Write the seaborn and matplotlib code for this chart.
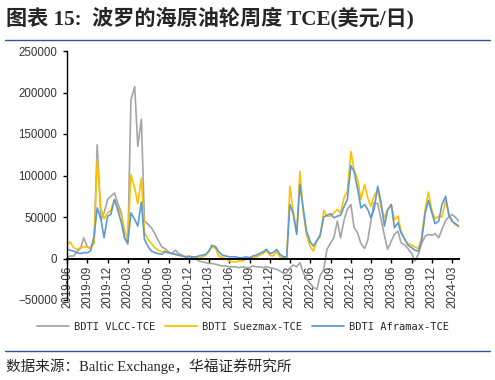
import pandas as pd
import matplotlib.pyplot as plt
import matplotlib.dates as mdates
from matplotlib.lines import Line2D
import seaborn as sns

# Semi-monthly readings (USD/day), starting 2019-06-01
vlcc = [
    1000, 3000, 3000, 8000, 12000, 25000, 14000, 12000, 20000, 137000,
    47000, 55000, 71000, 75000, 79000, 67000, 55000, 25000, 17000, 191000,
    207000, 135000, 168000, 45000, 41000, 37000, 30000, 22000, 14000, 12000,
    8000, 6000, 10000, 6000, 4000, 2000, 3000, 1000, 0, -3000,
    -4000, -5000, -6000, -6000, -7000, -8000, -9000, -9000, -10000, -10000,
    -10000, -11000, -10000, -11000, -11000, -9000, -10000, -10000, -11000, -10000,
    -11000, -12000, -13000, -15000, -18000, -17000, -12000, -8000, -10000, -5000,
    -17000, -25000, -30000, -35000, -37000, -21000, -13000, 11000, 19000, 25000,
    45000, 25000, 47000, 59000, 65000, 38000, 30000, 18000, 12000, 22000,
    45000, 67000, 66000, 48000, 28000, 11000, 21000, 29000, 33000, 19000,
    16000, 12000, 6000, -3000, 5000, 18000, 27000, 29000, 28000, 30000,
    25000, 35000, 46000, 50000, 53000, 50000, 45000,
]
suezmax = [
    17000, 20000, 13000, 11000, 13000, 14000, 14000, 13000, 18000, 119000,
    60000, 48000, 55000, 58000, 71000, 62000, 52000, 35000, 23000, 101000,
    85000, 66000, 97000, 31000, 23000, 18000, 13000, 10000, 8000, 9000,
    7000, 6000, 5000, 4000, 3000, 2000, 3000, 2000, 1000, 0,
    2000, 4000, 8000, 14000, 12000, 3000, 1000, 0, -3000, -4000,
    -4000, -3000, -3000, -1000, 0, 1000, 2000, 4000, 6000, 10000,
    4000, 3000, 8000, 2000, 1000, 0, 87000, 59000, 31000, 105000,
    55000, 28000, 14000, 9000, 21000, 26000, 58000, 51000, 51000, 55000,
    59000, 55000, 74000, 81000, 129000, 107000, 95000, 71000, 89000, 73000,
    63000, 75000, 83000, 63000, 49000, 59000, 65000, 47000, 51000, 33000,
    23000, 18000, 16000, 14000, 12000, 25000, 60000, 80000, 58000, 48000,
    51000, 50000, 70000, 55000, 45000, 41000, 38000,
]
aframax = [
    11000, 10000, 9000, 7000, 6000, 7000, 7000, 9000, 27000, 61000,
    47000, 25000, 51000, 53000, 71000, 59000, 43000, 25000, 19000, 55000,
    47000, 39000, 68000, 23000, 14000, 9000, 7000, 6000, 5000, 8000,
    7000, 6000, 5000, 4000, 3000, 2000, 2000, 2000, 2000, 3000,
    4000, 5000, 9000, 16000, 14000, 8000, 4000, 3000, 2000, 2000,
    2000, 1000, 1000, 2000, 1000, 3000, 4000, 6000, 8000, 11000,
    6000, 7000, 11000, 5000, 2000, 2000, 65000, 55000, 29000, 89000,
    59000, 33000, 20000, 15000, 22000, 28000, 50000, 52000, 54000, 49000,
    51000, 52000, 63000, 71000, 112000, 105000, 83000, 61000, 65000, 59000,
    49000, 59000, 87000, 69000, 39000, 58000, 65000, 37000, 43000, 31000,
    23000, 16000, 13000, 10000, 9000, 20000, 55000, 70000, 55000, 42000,
    45000, 65000, 75000, 52000, 45000, 42000, 39000,
]
series_names = ['BDTI VLCC-TCE', 'BDTI Suezmax-TCE', 'BDTI Aframax-TCE']
colors = ['#A5A5A5', '#FFC000', '#5B9BD5']

dates = pd.date_range('2019-06-01', periods=len(vlcc), freq='SMS')
df = pd.DataFrame({'date': dates, series_names[0]: vlcc,
                   series_names[1]: suezmax, series_names[2]: aframax})
long_df = df.melt(id_vars='date', var_name='series', value_name='tce')

sns.set_style('white')
plt.rcParams['font.family'] = ['Liberation Sans', 'Noto Sans CJK SC']

fig = plt.figure(figsize=(4.95, 3.8), dpi=100)
ax = fig.add_axes([67 / 495, 80 / 380, 392 / 495, 249 / 380])

sns.lineplot(data=long_df, x='date', y='tce', hue='series',
             hue_order=series_names, palette=colors, linewidth=1.2, ax=ax)

ax.set_xlim(pd.Timestamp('2019-06-01'), pd.Timestamp('2024-04-01'))
ax.set_ylim(-50000, 250000)
ax.set_yticks(range(-50000, 250001, 50000))
ax.xaxis.set_major_locator(mdates.MonthLocator(bymonth=[3, 6, 9, 12]))
ax.xaxis.set_major_formatter(mdates.DateFormatter('%Y-%m'))
ax.set_xlabel('')
ax.set_ylabel('')

for s in ['top', 'right']:
    ax.spines[s].set_visible(False)
ax.spines['bottom'].set_position(('data', 0))
ax.spines['bottom'].set_linewidth(1.4)
ax.spines['bottom'].set_color('black')
ax.spines['left'].set_linewidth(1.0)
ax.spines['left'].set_color('black')
ax.tick_params(axis='x', rotation=90, labelsize=8.3, length=3, width=1,
               direction='out', bottom=True, colors='black', pad=2)
ax.tick_params(axis='y', labelsize=8.3, length=3, width=1, left=True,
               colors='black', pad=4)
for lab in ax.get_xticklabels() + ax.get_yticklabels():
    lab.set_color('#333333')

sns.move_legend(ax, 'center', bbox_to_anchor=(0.449, -0.108), ncol=3,
                frameon=False, title=None, handlelength=3.0,
                handletextpad=0.5, columnspacing=1.0,
                prop={'family': 'DejaVu Sans Mono', 'size': 7.5})
for line in ax.get_legend().get_lines():
    line.set_linewidth(1.3)

fig.text(0.012, 0.952, '图表 15:  波罗的海原油轮周度 TCE(美元/日)',
         fontsize=15.2, fontweight='bold', va='center', ha='left',
         family=['Liberation Serif', 'Noto Sans CJK SC'])
fig.add_artist(Line2D([0.01, 0.99], [1 - 40 / 380, 1 - 40 / 380],
                      color='#2F5597', linewidth=1.0))
fig.add_artist(Line2D([0.01, 0.99], [1 - 351 / 380, 1 - 351 / 380],
                      color='#2F5597', linewidth=1.0))
fig.text(0.012, 1 - 366 / 380, '数据来源：Baltic Exchange，华福证券研究所',
         fontsize=10.5, va='center', ha='left',
         family=['Liberation Serif', 'Noto Sans CJK SC'])

fig.savefig('out.png', dpi=100)
